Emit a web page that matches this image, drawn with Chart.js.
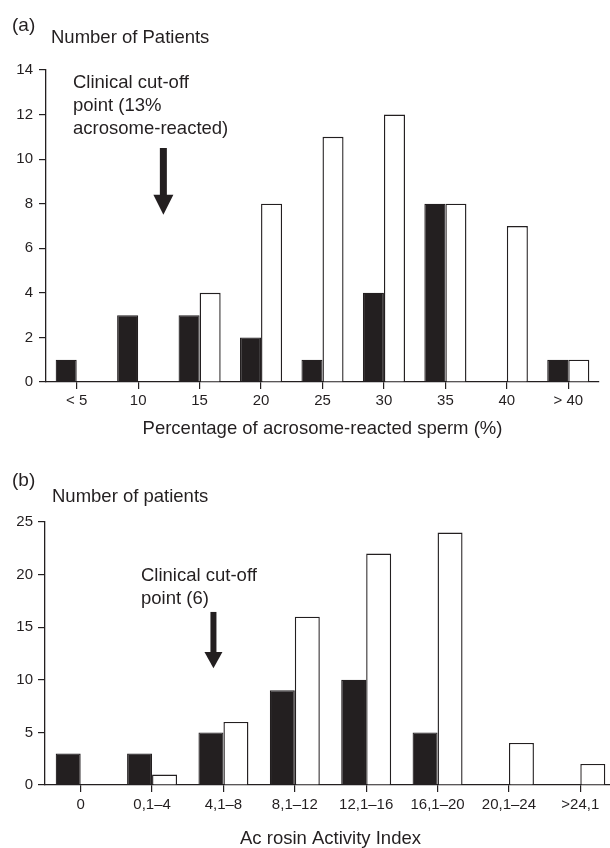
<!DOCTYPE html>
<html>
<head>
<meta charset="utf-8">
<script src="https://cdn.jsdelivr.net/npm/chart.js@4.4.1/dist/chart.umd.min.js"></script>
<style>
  html, body { margin:0; padding:0; background:#fff; overflow:hidden; width:610px; height:848px; }
  #wrap { position:relative; width:610px; height:848px; overflow:hidden; }
  canvas { position:absolute; left:0; }
  .t { position:absolute; font-family:"Liberation Sans", Arial, sans-serif; color:#231f20; font-size:18.5px; line-height:22px; white-space:nowrap; }
  .note { line-height:23px; }
</style>
</head>
<body>
<div id="wrap">
  <canvas id="ca" width="610" height="450" style="top:0"></canvas>
  <canvas id="cb" width="622" height="398" style="top:450px"></canvas>
  <div class="t" style="left:12px; top:14px; font-size:19px;">(a)</div>
  <div class="t" style="left:51px; top:26px;">Number of Patients</div>
  <div class="t note" style="left:73px; top:70px;">Clinical cut-off<br>point (13%<br>acrosome-reacted)</div>
  <div class="t" style="left:12px; top:469px; font-size:19px;">(b)</div>
  <div class="t" style="left:52px; top:485px;">Number of patients</div>
  <div class="t note" style="left:141px; top:563px;">Clinical cut-off<br>point (6)</div>
</div>
<script>
// ---------- data ----------
const categoriesA = ['< 5', '10', '15', '20', '25', '30', '35', '40', '> 40'];
const blackA = [1, 3, 3, 2, 1, 4, 8, 0, 1];
const whiteA = [0, 0, 4, 8, 11, 12, 8, 7, 1];
const yTicksA = [0, 2, 4, 6, 8, 10, 12, 14];
const xTitleA = 'Percentage of acrosome-reacted sperm (%)';

const categoriesB = ['0', '0,1\u20134', '4,1\u20138', '8,1\u201312', '12,1\u201316', '16,1\u201320', '20,1\u201324', '>24,1'];
const blackB = [3, 3, 5, 9, 10, 5, 0, 0];
const whiteB = [0, 1, 6, 16, 22, 24, 4, 2];
const yTicksB = [0, 5, 10, 15, 20, 25];
const xTitleB = 'Ac rosin Activity Index';

// cut-off arrows, in axis units (category index, value)
const arrowA = { at: 1.41, top: 10.5, head: 8.4, tip: 7.5 };
const arrowB = { at: 1.86, top: 16.45, head: 12.65, tip: 11.1 };

// ---------- styling ----------
const INK = '#231f20';
const FONT = '"Liberation Sans", Arial, sans-serif';

const arrowPlugin = {
  id: 'cutoffArrow',
  afterDatasetsDraw(chart, args, opts) {
    const xs = chart.scales.x, ys = chart.scales.y, ctx = chart.ctx;
    const cx = xs.getPixelForValue(opts.at);
    const yTop = ys.getPixelForValue(opts.top);
    const yHead = ys.getPixelForValue(opts.head);
    const yTip = ys.getPixelForValue(opts.tip);
    ctx.save();
    ctx.fillStyle = INK;
    ctx.fillRect(cx - opts.shaft / 2, yTop, opts.shaft, yHead - yTop + 1);
    ctx.beginPath();
    ctx.moveTo(cx - opts.headW / 2, yHead);
    ctx.lineTo(cx + opts.headW / 2, yHead);
    ctx.lineTo(cx, yTip);
    ctx.closePath();
    ctx.fill();
    ctx.restore();
  }
};

function makeChart(id, cats, blk, wht, yTicks, title, arrow, geo) {
  return new Chart(document.getElementById(id), {
    type: 'bar',
    data: {
      labels: cats,
      datasets: [
        { data: blk, backgroundColor: INK, borderColor: INK, borderWidth: 1.2,
          categoryPercentage: geo.catPct, barPercentage: 1.0 },
        { data: wht, backgroundColor: '#ffffff', borderColor: INK, borderWidth: 1.4,
          categoryPercentage: geo.catPct, barPercentage: 1.0 }
      ]
    },
    options: {
      responsive: false,
      devicePixelRatio: 1,
      animation: false,
      events: [],
      layout: { padding: { left: 0, right: geo.padRight, top: geo.padTop, bottom: geo.padBottom } },
      plugins: {
        legend: { display: false },
        tooltip: { enabled: false },
        cutoffArrow: Object.assign({ shaft: geo.shaft, headW: geo.headW }, arrow)
      },
      scales: {
        x: {
          offset: true,
          grid: { offset: false, drawOnChartArea: false, drawTicks: true, tickLength: 7, color: INK, lineWidth: 1.2 },
          border: { display: true, color: INK, width: 1.3 },
          ticks: { color: INK, font: { family: FONT, size: 15 }, padding: geo.xPad, maxRotation: 0, autoSkip: false },
          title: { display: true, text: title, color: INK, padding: 0,
                   font: { family: FONT, size: 18.5, lineHeight: 1 } },
          afterFit(s) { s.height = geo.xHeight; }
        },
        y: {
          min: yTicks[0], max: yTicks[yTicks.length - 1],
          afterBuildTicks(s) { s.ticks = yTicks.map(v => ({ value: v })); },
          grid: { drawOnChartArea: false, drawTicks: true, tickLength: 7, color: INK, lineWidth: 1.2 },
          border: { display: true, color: INK, width: 1.3 },
          ticks: { color: INK, font: { family: FONT, size: 15 }, padding: geo.yPad },
          afterFit(s) { s.width = geo.yWidth; }
        }
      }
    },
    plugins: [arrowPlugin]
  });
}

makeChart('ca', categoriesA, blackA, whiteA, yTicksA, xTitleA, arrowA,
  { catPct: 0.685, padRight: 11, padTop: 70, padBottom: 12, xHeight: 56, yWidth: 46, xPad: 3, yPad: 6, shaft: 7, headW: 20 });

makeChart('cb', categoriesB, blackB, whiteB, yTicksB, xTitleB, arrowB,
  { catPct: 0.70, padRight: 6, padTop: 72, padBottom: 0, xHeight: 63, yWidth: 45, xPad: 4, yPad: 5, shaft: 6, headW: 18 });
</script>
</body>
</html>
